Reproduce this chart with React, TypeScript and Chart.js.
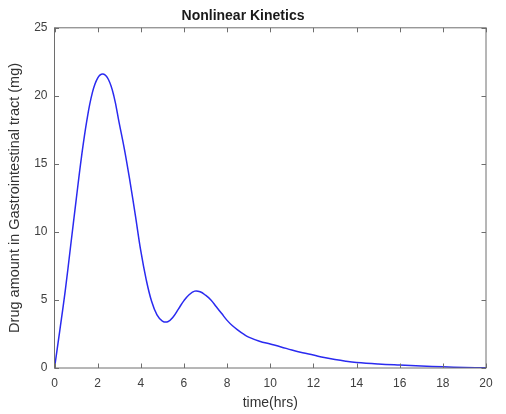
import React, { useEffect, useRef } from "react";
import { Chart, registerables } from "chart.js";

Chart.register(...registerables);

const timeHrs = [
  0, 0.25, 0.5, 0.75, 1.0, 1.25, 1.5, 1.75, 2.0, 2.25, 2.5, 2.75, 3.0, 3.25, 3.5, 3.75,
  4.0, 4.25, 4.5, 4.75, 5.0, 5.25, 5.5, 5.75, 6.0, 6.25, 6.5, 6.75, 7.0, 7.25, 7.5, 7.75,
  8.0, 8.25, 8.5, 8.75, 9.0, 9.5, 10, 10.5, 11, 11.5, 12, 12.5, 13, 13.5, 14, 15, 16, 17,
  18, 19, 20,
];
const drugAmount = [
  0, 2.8, 5.7, 9.0, 12.3, 15.5, 18.2, 20.2, 21.3, 21.6, 21.2, 20.0, 18.0, 16.0, 13.7, 11.2,
  8.6, 6.5, 4.9, 3.9, 3.45, 3.4, 3.75, 4.35, 4.95, 5.4, 5.65, 5.6, 5.35, 5.0, 4.5, 4.0,
  3.5, 3.1, 2.78, 2.5, 2.27, 1.97, 1.76, 1.55, 1.32, 1.12, 0.95, 0.77, 0.62, 0.5, 0.41, 0.3, 0.22, 0.15,
  0.09, 0.04, 0.01,
];

const chartTitle = "Nonlinear Kinetics";
const xLabel = "time(hrs)";
const yLabel = "Drug amount in Gastrointestinal tract (mg)";

const FONT = "'Liberation Sans', Arial, Helvetica, sans-serif";

const boxPlugin = {
  id: "matlabBox",
  afterDraw(chart: any) {
    const { ctx, chartArea } = chart;
    const { left, right, top, bottom } = chartArea;
    ctx.save();
    ctx.strokeStyle = "#6e6e6e";
    ctx.lineWidth = 1;
    ctx.strokeRect(left, top, right - left, bottom - top);
    const tl = 4.5;
    ctx.beginPath();
    const xs = chart.scales.x;
    xs.ticks.forEach((t: any) => {
      const px = Math.round(xs.getPixelForValue(t.value)) + 0.5;
      ctx.moveTo(px, bottom);
      ctx.lineTo(px, bottom - tl);
      ctx.moveTo(px, top);
      ctx.lineTo(px, top + tl);
    });
    const ys = chart.scales.y;
    ys.ticks.forEach((t: any) => {
      const py = Math.round(ys.getPixelForValue(t.value)) + 0.5;
      ctx.moveTo(left, py);
      ctx.lineTo(left + tl, py);
      ctx.moveTo(right, py);
      ctx.lineTo(right - tl, py);
    });
    ctx.stroke();
    ctx.restore();
  },
};

export default function App() {
  const ref = useRef<HTMLCanvasElement | null>(null);
  useEffect(() => {
    if (!ref.current) return;
    const points = timeHrs.map((t, i) => ({ x: t, y: drugAmount[i] }));
    const chart = new Chart(ref.current, {
      type: "line",
      data: {
        datasets: [
          {
            data: points,
            borderColor: "#2a2af0",
            borderWidth: 1.5,
            pointRadius: 0,
            fill: false,
            tension: 0.4,
          },
        ],
      },
      options: {
        animation: false,
        responsive: false,
        maintainAspectRatio: false,
        layout: { padding: { left: 0, right: 20, top: 0, bottom: 0 } },
        plugins: {
          legend: { display: false },
          tooltip: { enabled: false },
          title: {
            display: true,
            text: chartTitle,
            color: "#1a1a1a",
            font: { family: FONT, size: 14, weight: "bold" },
            padding: { top: 8, bottom: 3 },
          },
        },
        scales: {
          x: {
            type: "linear",
            min: 0,
            max: 20,
            ticks: {
              stepSize: 2,
              color: "#404040",
              font: { family: FONT, size: 12 },
              padding: 8,
              maxRotation: 0,
            },
            grid: { display: false, drawTicks: false },
            border: { display: false },
            title: {
              display: true,
              text: xLabel,
              color: "#333",
              font: { family: FONT, size: 14 },
              padding: { top: 2, bottom: 2 },
            },
            afterFit: (s: any) => {
              s.height = 46;
            },
          },
          y: {
            type: "linear",
            min: 0,
            max: 25,
            ticks: {
              stepSize: 5,
              color: "#404040",
              font: { family: FONT, size: 12 },
              padding: 7,
            },
            grid: { display: false, drawTicks: false },
            border: { display: false },
            title: {
              display: true,
              text: yLabel,
              color: "#333",
              font: { family: FONT, size: 14.5 },
              padding: { top: 6, bottom: 0 },
            },
            afterFit: (s: any) => {
              s.width = 54.5;
            },
          },
        },
      },
      plugins: [boxPlugin],
    });
    return () => chart.destroy();
  }, []);
  return (
    <div style={{ position: "fixed", left: 0, top: 0, width: 506, height: 414, background: "#fff" }}>
      <canvas ref={ref} width={506} height={414} style={{ display: "block" }} />
    </div>
  );
}
